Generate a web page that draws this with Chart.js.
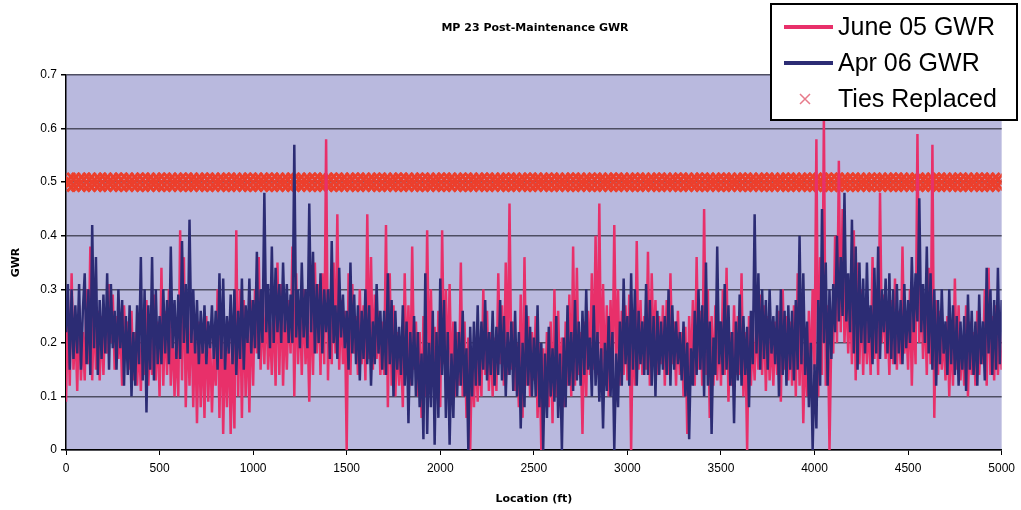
<!DOCTYPE html>
<html>
<head>
<meta charset="utf-8">
<title>MP 23 Post-Maintenance GWR</title>
<script src="https://cdn.jsdelivr.net/npm/chart.js@4.4.1/dist/chart.umd.min.js"></script>
<style>
  body { margin: 0; background: #ffffff; }
  #wrap { width: 1021px; height: 510px; }
</style>
</head>
<body>
<div id="wrap"><canvas id="gwr" width="1021" height="510"></canvas></div>
<script>
// GWR readings sampled every 10 ft along the track (0 .. 5000 ft), one row per 100 ft
const stepFt = 10;

const jun05 = [
  0.09,0.28,0.12,0.33,0.15,0.24,0.11,0.27,0.13,0.22,
  0.13,0.30,0.16,0.38,0.13,0.27,0.15,0.26,0.13,0.25,
  0.14,0.26,0.18,0.31,0.20,0.29,0.15,0.25,0.17,0.24,
  0.12,0.27,0.18,0.24,0.15,0.26,0.13,0.22,0.12,0.21,
  0.11,0.25,0.14,0.28,0.12,0.22,0.14,0.29,0.13,0.24,
  0.10,0.34,0.12,0.26,0.14,0.30,0.12,0.23,0.10,0.21,
  0.10,0.41,0.13,0.36,0.08,0.25,0.12,0.28,0.08,0.24,
  0.05,0.24,0.08,0.22,0.06,0.25,0.09,0.21,0.07,0.19,
  0.12,0.30,0.06,0.27,0.03,0.21,0.08,0.24,0.03,0.20,
  0.04,0.41,0.10,0.30,0.06,0.28,0.10,0.24,0.07,0.28,
  0.12,0.30,0.18,0.36,0.15,0.27,0.16,0.30,0.15,0.24,
  0.14,0.29,0.12,0.35,0.14,0.31,0.12,0.26,0.15,0.28,
  0.18,0.38,0.10,0.33,0.16,0.28,0.14,0.30,0.16,0.25,
  0.09,0.30,0.14,0.35,0.18,0.31,0.14,0.33,0.16,0.58,
  0.13,0.30,0.16,0.35,0.18,0.44,0.15,0.28,0.16,0.26,
  0.00,0.33,0.14,0.31,0.18,0.25,0.14,0.30,0.16,0.27,
  0.13,0.44,0.17,0.36,0.15,0.29,0.17,0.26,0.14,0.24,
  0.14,0.42,0.08,0.33,0.12,0.27,0.10,0.22,0.12,0.20,
  0.08,0.33,0.14,0.27,0.12,0.38,0.15,0.24,0.10,0.22,
  0.06,0.25,0.10,0.41,0.15,0.30,0.12,0.23,0.10,0.26,
  0.08,0.41,0.16,0.30,0.14,0.31,0.12,0.24,0.10,0.22,
  0.12,0.35,0.10,0.24,0.06,0.21,0.00,0.19,0.08,0.20,
  0.09,0.20,0.10,0.30,0.14,0.26,0.11,0.22,0.10,0.21,
  0.11,0.33,0.16,0.27,0.12,0.35,0.14,0.46,0.15,0.24,
  0.11,0.20,0.08,0.29,0.06,0.36,0.12,0.25,0.10,0.22,
  0.13,0.25,0.06,0.20,0.00,0.19,0.08,0.22,0.08,0.24,
  0.05,0.30,0.10,0.26,0.12,0.21,0.08,0.24,0.12,0.29,
  0.10,0.38,0.12,0.34,0.14,0.22,0.03,0.24,0.10,0.26,
  0.14,0.33,0.15,0.40,0.14,0.46,0.12,0.31,0.12,0.27,
  0.10,0.28,0.13,0.42,0.15,0.30,0.12,0.26,0.14,0.27,
  0.13,0.29,0.00,0.26,0.12,0.39,0.15,0.28,0.14,0.25,
  0.15,0.37,0.12,0.33,0.18,0.28,0.14,0.25,0.16,0.27,
  0.12,0.28,0.14,0.33,0.16,0.24,0.12,0.26,0.14,0.22,
  0.10,0.23,0.03,0.25,0.14,0.28,0.12,0.36,0.15,0.26,
  0.12,0.45,0.14,0.30,0.06,0.25,0.12,0.27,0.13,0.24,
  0.12,0.30,0.14,0.34,0.09,0.22,0.12,0.27,0.14,0.25,
  0.14,0.33,0.10,0.22,0.00,0.25,0.12,0.21,0.13,0.26,
  0.15,0.29,0.14,0.27,0.11,0.25,0.13,0.22,0.12,0.24,
  0.14,0.26,0.09,0.30,0.15,0.25,0.13,0.24,0.12,0.27,
  0.10,0.33,0.12,0.27,0.05,0.20,0.10,0.26,0.12,0.30,
  0.15,0.58,0.10,0.36,0.14,0.62,0.12,0.27,0.00,0.22,
  0.18,0.40,0.20,0.54,0.22,0.45,0.20,0.31,0.18,0.29,
  0.16,0.41,0.13,0.35,0.16,0.30,0.14,0.28,0.16,0.25,
  0.14,0.36,0.17,0.30,0.14,0.48,0.20,0.29,0.17,0.25,
  0.14,0.28,0.16,0.32,0.15,0.26,0.16,0.38,0.18,0.24,
  0.15,0.30,0.12,0.28,0.16,0.59,0.20,0.31,0.17,0.28,
  0.14,0.34,0.16,0.57,0.06,0.28,0.14,0.26,0.15,0.22,
  0.13,0.25,0.10,0.23,0.12,0.32,0.15,0.27,0.13,0.21,
  0.12,0.27,0.10,0.24,0.14,0.22,0.12,0.26,0.14,0.22,
  0.16,0.30,0.12,0.34,0.14,0.25,0.13,0.27,0.14,0.22,
  0.15
];

const apr06 = [
  0.22,0.31,0.15,0.30,0.17,0.27,0.18,0.31,0.15,0.26,
  0.33,0.16,0.30,0.14,0.42,0.19,0.36,0.14,0.28,0.17,
  0.29,0.18,0.33,0.15,0.31,0.19,0.26,0.15,0.30,0.19,
  0.28,0.12,0.25,0.14,0.27,0.10,0.22,0.12,0.27,0.16,
  0.36,0.13,0.30,0.07,0.27,0.15,0.36,0.13,0.30,0.16,
  0.25,0.16,0.30,0.18,0.28,0.16,0.38,0.19,0.28,0.17,
  0.29,0.17,0.39,0.20,0.31,0.18,0.43,0.20,0.30,0.18,
  0.28,0.16,0.26,0.18,0.27,0.16,0.24,0.19,0.27,0.17,
  0.26,0.15,0.33,0.17,0.32,0.15,0.25,0.18,0.29,0.16,
  0.30,0.14,0.26,0.17,0.32,0.15,0.27,0.20,0.32,0.18,
  0.28,0.19,0.37,0.17,0.30,0.20,0.48,0.22,0.31,0.19,
  0.38,0.20,0.34,0.22,0.31,0.20,0.35,0.22,0.31,0.20,
  0.29,0.20,0.57,0.21,0.30,0.19,0.35,0.21,0.30,0.19,
  0.46,0.22,0.37,0.18,0.31,0.20,0.33,0.18,0.30,0.22,
  0.30,0.17,0.39,0.20,0.27,0.17,0.34,0.21,0.29,0.19,
  0.26,0.15,0.35,0.18,0.29,0.16,0.27,0.13,0.26,0.17,
  0.30,0.16,0.27,0.12,0.24,0.16,0.31,0.18,0.26,0.15,
  0.26,0.14,0.33,0.16,0.28,0.10,0.26,0.15,0.23,0.14,
  0.27,0.12,0.24,0.05,0.22,0.12,0.25,0.10,0.22,0.08,
  0.18,0.02,0.33,0.03,0.20,0.08,0.26,0.01,0.22,0.06,
  0.32,0.14,0.28,0.06,0.22,0.01,0.18,0.06,0.24,0.10,
  0.22,0.12,0.26,0.10,0.19,0.00,0.23,0.10,0.24,0.12,
  0.27,0.12,0.24,0.15,0.28,0.13,0.22,0.14,0.26,0.12,
  0.23,0.14,0.28,0.13,0.25,0.10,0.22,0.14,0.24,0.11,
  0.26,0.10,0.22,0.04,0.20,0.08,0.27,0.12,0.23,0.10,
  0.21,0.10,0.27,0.08,0.20,0.00,0.18,0.06,0.23,0.10,
  0.19,0.09,0.25,0.06,0.18,0.00,0.21,0.08,0.27,0.12,
  0.22,0.11,0.28,0.13,0.24,0.12,0.26,0.14,0.30,0.15,
  0.21,0.10,0.27,0.12,0.22,0.09,0.19,0.04,0.20,0.11,
  0.25,0.10,0.22,0.00,0.18,0.08,0.24,0.12,0.32,0.16,
  0.25,0.12,0.33,0.15,0.30,0.12,0.26,0.16,0.24,0.14,
  0.31,0.14,0.28,0.12,0.25,0.10,0.26,0.14,0.24,0.15,
  0.25,0.14,0.30,0.12,0.27,0.15,0.24,0.16,0.22,0.13,
  0.24,0.10,0.20,0.02,0.19,0.12,0.26,0.14,0.30,0.15,
  0.27,0.10,0.35,0.12,0.24,0.03,0.21,0.14,0.38,0.16,
  0.24,0.14,0.31,0.15,0.27,0.12,0.22,0.05,0.24,0.13,
  0.29,0.12,0.25,0.14,0.23,0.08,0.26,0.16,0.44,0.18,
  0.33,0.15,0.30,0.17,0.28,0.15,0.30,0.18,0.25,0.16,
  0.27,0.10,0.30,0.14,0.26,0.12,0.27,0.15,0.26,0.13,
  0.28,0.15,0.40,0.16,0.33,0.14,0.24,0.08,0.20,0.00,
  0.16,0.04,0.28,0.12,0.45,0.20,0.35,0.12,0.30,0.17,
  0.31,0.22,0.40,0.24,0.36,0.25,0.48,0.24,0.33,0.22,
  0.43,0.18,0.38,0.15,0.35,0.20,0.32,0.18,0.35,0.20,
  0.27,0.16,0.34,0.18,0.38,0.17,0.30,0.22,0.32,0.18,
  0.33,0.17,0.30,0.16,0.31,0.18,0.28,0.16,0.31,0.19,
  0.28,0.20,0.36,0.22,0.33,0.24,0.47,0.22,0.31,0.20,
  0.38,0.18,0.33,0.15,0.30,0.12,0.28,0.16,0.30,0.18,
  0.24,0.14,0.30,0.16,0.27,0.14,0.25,0.12,0.24,0.15,
  0.25,0.11,0.29,0.15,0.26,0.14,0.24,0.12,0.29,0.16,
  0.24,0.13,0.34,0.18,0.30,0.14,0.28,0.15,0.34,0.16,
  0.28
];

// locations (ft) where ties were replaced, plotted at the 0.5 marker level
const tieLevel = 0.5;
const tiesFt = [
  0, 25, 55, 80, 110, 140, 165, 195, 225, 250, 280, 310, 340, 365, 395, 425, 455, 480,
  510, 540, 570, 595, 625, 655, 685, 710, 740, 770, 800, 825, 855, 885, 915, 940, 970,
  1000, 1030, 1055, 1085, 1115, 1145, 1170, 1200, 1230, 1260, 1285, 1315, 1345, 1375,
  1400, 1430, 1460, 1490, 1515, 1545, 1575, 1605, 1630, 1660, 1690, 1720, 1745, 1775,
  1805, 1835, 1860, 1890, 1920, 1950, 1975, 2005, 2035, 2065, 2090, 2120, 2150, 2180,
  2205, 2235, 2265, 2295, 2320, 2350, 2380, 2410, 2435, 2465, 2495, 2525, 2550, 2580,
  2610, 2640, 2665, 2695, 2725, 2755, 2780, 2810, 2840, 2870, 2895, 2925, 2955, 2985,
  3010, 3040, 3070, 3100, 3125, 3155, 3185, 3215, 3240, 3270, 3300, 3330, 3355, 3385,
  3415, 3445, 3470, 3500, 3530, 3560, 3585, 3615, 3645, 3675, 3700, 3730, 3760, 3790,
  3815, 3845, 3875, 3905, 3930, 3960, 3990, 4020, 4045, 4075, 4105, 4135, 4160, 4190,
  4220, 4250, 4275, 4305, 4335, 4365, 4390, 4420, 4450, 4480, 4505, 4535, 4565, 4595,
  4620, 4650, 4680, 4710, 4735, 4765, 4795, 4825, 4850, 4880, 4910, 4940, 4965, 4995
];

const yMax = 0.7, yStep = 0.1;
const xMax = 5000, xStep = 500;

const toPoints = arr => arr.map((v, i) => ({ x: i * stepFt, y: v }));

const PINK = '#e8306a';
const NAVY = '#2c2c74';
const TIE_RED = '#ec3f2c';

// lavender plot area fill
const plotBg = {
  id: 'plotBg',
  beforeDraw(chart) {
    const { ctx, chartArea: a } = chart;
    ctx.save();
    ctx.fillStyle = '#b9b9de';
    ctx.fillRect(a.left, a.top, a.right - a.left, a.bottom - a.top);
    ctx.restore();
  }
};

// title + boxed legend drawn over the top right corner
const overlay = {
  id: 'overlay',
  afterDraw(chart) {
    const ctx = chart.ctx;
    ctx.save();
    ctx.fillStyle = '#000';
    ctx.font = 'bold 11px "DejaVu Sans"';
    ctx.textAlign = 'center';
    ctx.textBaseline = 'middle';
    ctx.fillText('MP 23 Post-Maintenance GWR', 535, 28);

    const bx = 771, by = 4, bw = 246, bh = 116;
    ctx.fillStyle = '#fff';
    ctx.fillRect(bx, by, bw, bh);
    ctx.strokeStyle = '#000';
    ctx.lineWidth = 2;
    ctx.strokeRect(bx, by, bw, bh);

    const ds = chart.data.datasets;
    const rows = [27, 63, 99];
    ctx.font = '25px "Liberation Sans"';
    ctx.textAlign = 'left';
    ds.forEach((d, i) => {
      const cy = rows[i];
      if (d.showLine === false) {
        ctx.strokeStyle = '#e77a8a';
        ctx.lineWidth = 1.5;
        ctx.beginPath();
        ctx.moveTo(800, cy - 5); ctx.lineTo(810, cy + 5);
        ctx.moveTo(810, cy - 5); ctx.lineTo(800, cy + 5);
        ctx.stroke();
      } else {
        ctx.strokeStyle = d.borderColor;
        ctx.lineWidth = 4;
        ctx.beginPath();
        ctx.moveTo(784, cy); ctx.lineTo(833, cy);
        ctx.stroke();
      }
      ctx.fillStyle = '#000';
      ctx.fillText(d.label, 838, cy + 1);
    });
    ctx.restore();
  }
};

new Chart(document.getElementById('gwr'), {
  type: 'line',
  data: {
    datasets: [
      {
        label: 'June 05 GWR',
        data: toPoints(jun05),
        borderColor: PINK,
        borderWidth: 2.5,
        pointRadius: 0,
        tension: 0,
        order: 1
      },
      {
        label: 'Apr 06 GWR',
        data: toPoints(apr06),
        borderColor: NAVY,
        borderWidth: 2.5,
        pointRadius: 0,
        tension: 0,
        order: 0
      },
      {
        label: 'Ties Replaced',
        data: tiesFt.map(x => ({ x: x, y: tieLevel })),
        showLine: false,
        pointStyle: 'crossRot',
        pointRadius: 13,
        borderColor: TIE_RED,
        borderWidth: 3,
        order: 2
      }
    ]
  },
  options: {
    responsive: false,
    animation: false,
    layout: { padding: { left: 0, top: 75, right: 12, bottom: 0 } },
    plugins: {
      legend: { display: false },
      title: { display: false },
      tooltip: { enabled: false }
    },
    scales: {
      x: {
        type: 'linear',
        min: 0,
        max: xMax,
        ticks: {
          stepSize: xStep, color: '#000', font: { family: 'Liberation Sans', size: 12 }, padding: 6, maxRotation: 0,
          callback: v => String(v)
        },
        grid: { drawOnChartArea: false, tickLength: 5, color: '#000' },
        border: { color: '#000', width: 1.5 },
        title: { display: true, text: 'Location (ft)', color: '#000', font: { family: 'DejaVu Sans', size: 11, weight: 'bold' }, padding: { top: 12 } },
        afterFit(scale) { scale.height = 60; }
      },
      y: {
        min: 0,
        max: yMax,
        ticks: { stepSize: yStep, color: '#000', font: { family: 'Liberation Sans', size: 12 }, padding: 4 },
        grid: { color: '#4e4e62', lineWidth: 1.5, tickLength: 5, tickColor: '#000' },
        border: { color: '#000', width: 1.5 },
        title: { display: true, text: 'GWR', color: '#000', font: { family: 'DejaVu Sans', size: 11, weight: 'bold' }, padding: { top: 10, bottom: 2 } },
        afterFit(scale) { scale.width = 66; }
      }
    }
  },
  plugins: [plotBg, overlay]
});
</script>
</body>
</html>
